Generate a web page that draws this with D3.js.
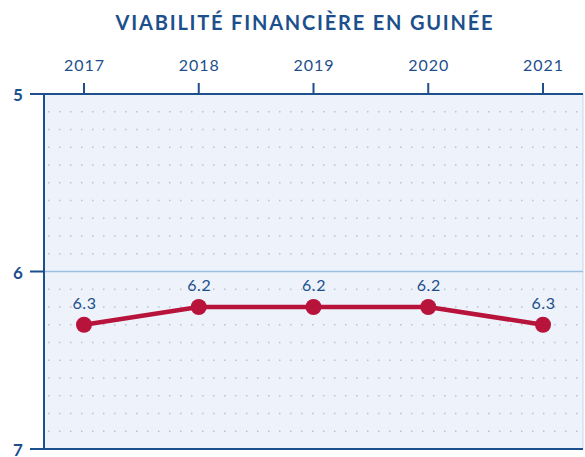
<!DOCTYPE html>
<html>
<head>
<meta charset="utf-8">
<script src="https://cdn.jsdelivr.net/npm/d3@7"></script>
<style>
	body { margin: 0; background: #fff; }
	text { font-family: Lato, "Open Sans", sans-serif; }
</style>
</head>
<body>
<svg id="chart" width="585" height="457"></svg>
<script>
// Data
var years = ['2017', '2018', '2019', '2020', '2021'],
	scores = [6.3, 6.2, 6.2, 6.2, 6.3],
	yTicks = [5, 6, 7],
	title = 'VIABILITÉ FINANCIÈRE EN GUINÉE';

var blue = '#1d4f8c',
	red = '#b8133a';

var svg = d3.select('#chart');
var plotLeft = 44, plotRight = 583, plotTop = 94, plotBottom = 449;

// Scales
var x = d3.scalePoint().domain(years).range([84, 543]);
var y = d3.scaleLinear().domain([5, 7]).range([plotTop, plotBottom]);

// Title
svg.append('text')
	.attr('x', 305).attr('y', 30)
	.attr('text-anchor', 'middle')
	.attr('fill', blue)
	.style('font-size', '20px').style('font-weight', 'bold')
	.style('letter-spacing', '1.8px')
	.text(title);

// Plot background
svg.append('rect')
	.attr('x', plotLeft).attr('y', plotTop)
	.attr('width', plotRight - plotLeft).attr('height', plotBottom - plotTop)
	.attr('fill', '#eef3fb')
	.attr('stroke', '#c9d6e8').attr('stroke-width', 1);

// Dotted grid every 0.1
var minor = d3.range(51, 70).map(function(d) { return d / 10; }).filter(function(d) { return d !== 6; });
svg.append('g').selectAll('line')
	.data(minor)
	.enter().append('line')
		.attr('x1', plotLeft + 4).attr('x2', plotRight)
		.attr('y1', function(d) { return y(d); })
		.attr('y2', function(d) { return y(d); })
		.attr('stroke', '#b7c3d3')
		.attr('stroke-width', 1.5)
		.attr('stroke-dasharray', '1.5 9.5');

// Line at 6
svg.append('line')
	.attr('x1', plotLeft).attr('x2', plotRight)
	.attr('y1', y(6)).attr('y2', y(6))
	.attr('stroke', '#9dbfe0').attr('stroke-width', 1.5);

// Y axis
svg.append('line')
	.attr('x1', plotLeft).attr('x2', plotLeft)
	.attr('y1', plotTop).attr('y2', plotBottom)
	.attr('stroke', blue).attr('stroke-width', 2);

svg.append('g').selectAll('line.ytick')
	.data(yTicks)
	.enter().append('line')
		.attr('class', 'ytick')
		.attr('x1', 30)
		.attr('x2', function(d) { return d === 6 ? plotLeft : plotRight; })
		.attr('y1', function(d) { return y(d); })
		.attr('y2', function(d) { return y(d); })
		.attr('stroke', blue).attr('stroke-width', 2);

svg.append('g').selectAll('text')
	.data(yTicks)
	.enter().append('text')
		.attr('x', 18)
		.attr('y', function(d) { return y(d) + 7; })
		.attr('text-anchor', 'middle')
		.attr('fill', blue)
		.style('font-size', '17px').style('font-weight', 'bold')
		.text(function(d) { return d; });

// X axis ticks on top
svg.append('g').selectAll('line')
	.data(years)
	.enter().append('line')
		.attr('x1', function(d) { return x(d); })
		.attr('x2', function(d) { return x(d); })
		.attr('y1', 83).attr('y2', plotTop)
		.attr('stroke', blue).attr('stroke-width', 2);

svg.append('g').selectAll('text')
	.data(years)
	.enter().append('text')
		.attr('x', function(d) { return x(d) + 0.5; })
		.attr('y', 71)
		.attr('text-anchor', 'middle')
		.attr('fill', blue)
		.style('font-size', '16px')
		.style('letter-spacing', '1px')
		.text(function(d) { return d; });

// Series
var pts = years.map(function(d, i) { return { year: d, v: scores[i] }; });

svg.append('path')
	.datum(pts)
	.attr('fill', 'none')
	.attr('stroke', red)
	.attr('stroke-width', 4.5)
	.attr('d', d3.line()
		.x(function(d) { return x(d.year); })
		.y(function(d) { return y(d.v); }));

svg.append('g').selectAll('circle')
	.data(pts)
	.enter().append('circle')
		.attr('cx', function(d) { return x(d.year); })
		.attr('cy', function(d) { return y(d.v); })
		.attr('r', 8)
		.attr('fill', red);

svg.append('g').selectAll('text')
	.data(pts)
	.enter().append('text')
		.attr('x', function(d) { return x(d.year) + 0.5; })
		.attr('y', function(d) { return y(d.v) - 16; })
		.attr('text-anchor', 'middle')
		.attr('fill', blue)
		.style('font-size', '16px')
		.style('letter-spacing', '0.5px')
		.text(function(d) { return d.v.toFixed(1); });
</script>
</body>
</html>
